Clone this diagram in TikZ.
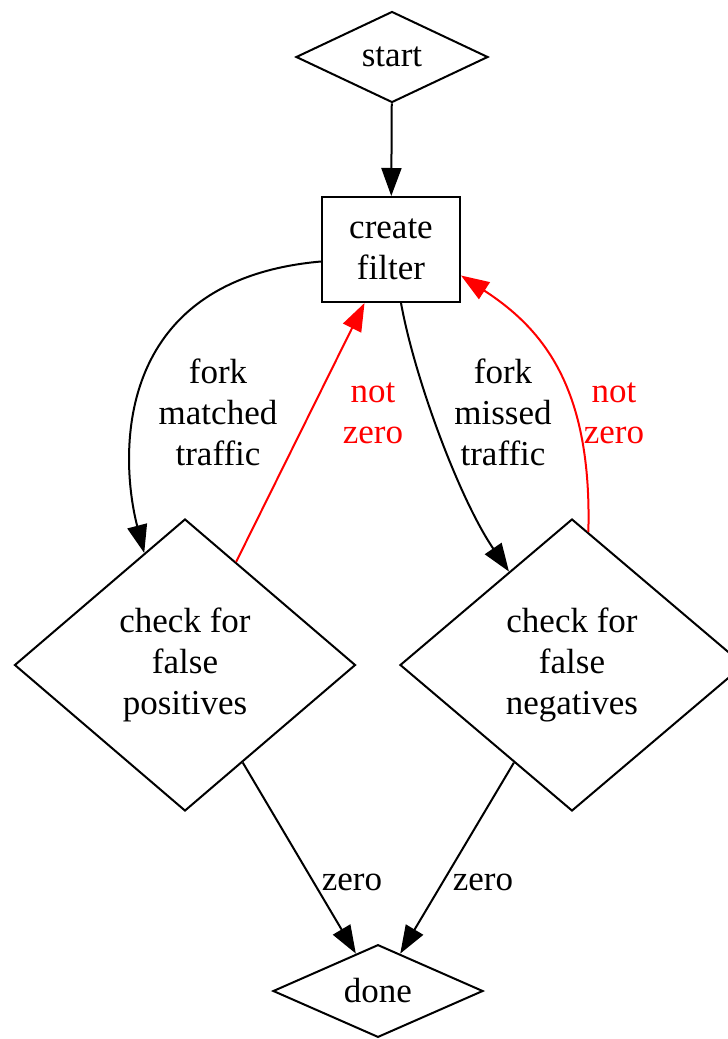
\documentclass[tikz,border=0pt]{standalone}
\usepackage{fontspec}
\setmainfont{Liberation Serif}
\usetikzlibrary{shapes.geometric,arrows.meta}

\begin{document}
\begin{tikzpicture}[x=0.5pt,y=-0.5pt,
  font=\fontsize{17.5}{20.5}\selectfont,
  decision/.style={draw,diamond,line width=1pt,inner sep=0pt,align=center},
  process/.style={draw,rectangle,line width=1pt,inner sep=0pt,align=center,
    minimum width=69pt,minimum height=52.5pt},
  edge/.style={line width=1pt,-{Triangle[length=14pt,width=10pt]}},
  redge/.style={edge,red},
  lbl/.style={align=center,inner sep=0pt}]
\useasboundingbox (0,0) rectangle (728,1039);
\clip (0,0) rectangle (728,1039);
\node[decision,minimum width=96pt,minimum height=45.5pt] (start) at (392,57) {start};
\node[process] (filter) at (391,249.5) {create\\filter};
\node[decision,minimum width=170.5pt,minimum height=146pt] (falsepos) at (185,665) {check for\\false\\positives};
\node[decision,minimum width=172pt,minimum height=146pt] (falseneg) at (572,665) {check for\\false\\negatives};
\node[decision,minimum width=105pt,minimum height=46pt] (done) at (378,991) {done};
% edge labels
\node[lbl] (forkmatch) at (218,412) {fork\\matched\\traffic};
\node[lbl,red] (notzeroA) at (373,413) {not\\zero};
\node[lbl] (forkmiss) at (503,412) {fork\\missed\\traffic};
\node[lbl,red] (notzeroB) at (614,413) {not\\zero};
\node[lbl] (zeroA) at (352,882) {zero};
\node[lbl] (zeroB) at (483,882) {zero};
% edges
\draw[edge] (start) -- (filter);
\draw[edge] ([yshift=-6pt]filter.west) .. controls (110,280) and (120,460) .. (falsepos.110);
\draw[redge] (falsepos) -- (filter);
\draw[edge] ([xshift=5pt]filter.south) .. controls (415,380) and (460,500) .. (falseneg.124.5);
\draw[redge] (falseneg.83) .. controls (592,390) and (545,330) .. ([yshift=-13pt]filter.east);
\draw[edge] (falsepos) -- (done);
\draw[edge] (falseneg) -- (done);
\end{tikzpicture}
\end{document}
